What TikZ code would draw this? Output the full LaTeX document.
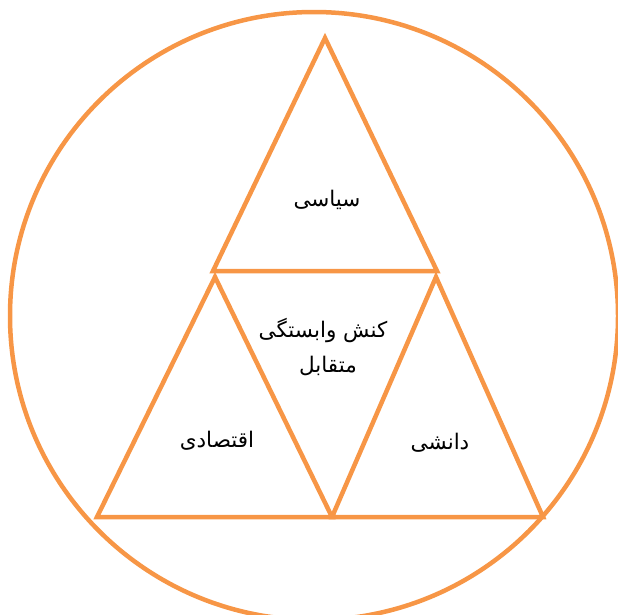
\documentclass[tikz,border=0pt]{standalone}
\usepackage{fontspec}
\TeXXeTstate=1
\newfontfamily\arabicfont[Script=Arabic]{DejaVu Sans}
\definecolor{accent}{HTML}{F79646}
\begin{document}
\begin{tikzpicture}[x=1pt,y=-1pt,
  edge/.style={draw=accent,line width=4.5pt,line join=miter},
  lbl/.style={font=\arabicfont\fontsize{21.5}{26}\selectfont,text=black,align=center,inner sep=0pt}]
\useasboundingbox (0,0) rectangle (618,614);
\node[draw=accent,line width=4.5pt,circle,minimum size=608pt,inner sep=0pt] (circ) at (314,316) {};
% top triangle
\coordinate (t1) at (325,38);
\coordinate (t2) at (213,271);
\coordinate (t3) at (437,271);
\draw[edge] (t1) -- (t2) -- (t3) -- cycle;
% left triangle
\coordinate (l1) at (215,277);
\coordinate (l2) at (97,517);
\coordinate (l3) at (332,517);
\draw[edge] (l1) -- (l2) -- (l3) -- cycle;
% right triangle
\coordinate (r1) at (436,277);
\coordinate (r2) at (332,517);
\coordinate (r3) at (543,517);
\draw[edge] (r1) -- (r2) -- (r3) -- cycle;
\node[lbl] (pol) at (327,200) {\beginR سیاسی\endR};
\node[lbl] (mid1) at (323,330) {\beginR کنش وابستگی\endR};
\node[lbl] (mid2) at (328,366) {\beginR متقابل\endR};
\node[lbl] (eco) at (217,441) {\beginR اقتصادی\endR};
\node[lbl] (sci) at (440,443) {\beginR دانشی\endR};
\end{tikzpicture}
\end{document}
